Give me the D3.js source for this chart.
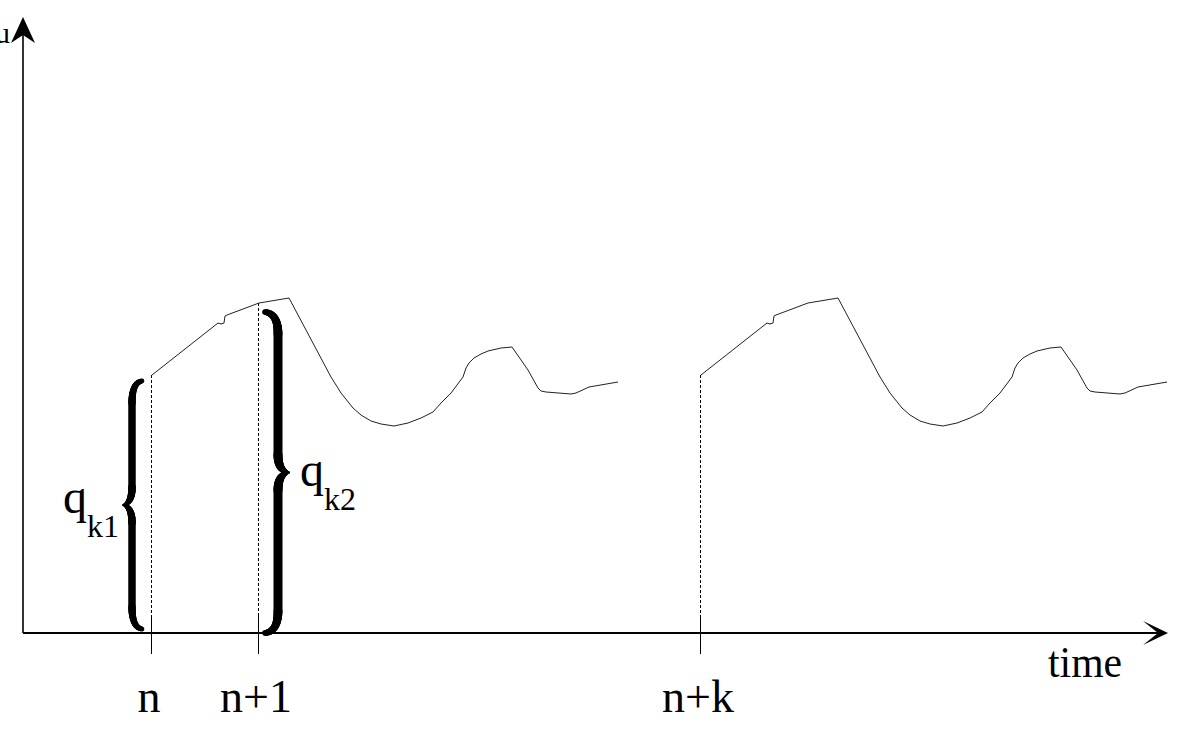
<!DOCTYPE html>
<html>
<head>
<meta charset="utf-8">
<script src="https://cdn.jsdelivr.net/npm/d3@7"></script>
<style>
  body { margin: 0; background: #fff; }
  svg { display: block; }
</style>
</head>
<body>
<svg></svg>
<script>
// one cycle of the signal, time measured from the cycle start
var cycleDt = [0, 66, 69, 72, 73, 75, 107, 137, 179, 189, 201, 209, 219, 229, 242, 256, 269, 281,
               289, 299, 311, 314, 317, 322, 329, 336, 349, 360, 376, 386, 389, 394, 419, 424, 437, 466]
var cycleU  = [258, 310, 309, 310, 317, 318, 330, 335, 256, 240, 225, 218, 212, 209, 207, 210, 215, 221,
               230, 240, 256, 265, 270, 275, 279, 282, 285, 286, 263, 245, 242, 241, 239, 240, 246, 251]
var cycleStarts = [129, 678]

// time ticks
var tickTimes  = [129, 236, 678]
var tickLabels = ["n", "n+1", "n+k"]
var dropU      = [258, 330, 258]

// braces
var braceTimes = [129, 236]
var braceQ     = [258, 330]
var braceSubs  = ["k1", "k2"]

var width = 1188, height = 739
var serif = "'Liberation Serif', 'DejaVu Serif', 'Times New Roman', Times, serif"

var svg = d3.select("svg")
  .attr("width", width)
  .attr("height", height)

var x = d3.scaleLinear().domain([0, 1145]).range([23, 1168])
var y = d3.scaleLinear().domain([0, 616]).range([633, 17])

// axes
var x0 = x(0), y0 = y(0)
svg.append("line")
  .attr("x1", x0).attr("y1", y0)
  .attr("x2", x(1145) - 10).attr("y2", y0)
  .attr("stroke", "#000").attr("stroke-width", 1.8)
svg.append("line")
  .attr("x1", x0).attr("y1", y0)
  .attr("x2", x0).attr("y2", y(616) + 18)
  .attr("stroke", "#000").attr("stroke-width", 1.6)

var xe = x(1145), ye = y(616)
svg.append("path")
  .attr("d", "M" + xe + "," + y0 + "L" + (xe - 25) + "," + (y0 - 12) + "L" + (xe - 10) + "," + y0 +
             "L" + (xe - 25) + "," + (y0 + 12) + "Z")
  .attr("fill", "#000")
svg.append("path")
  .attr("d", "M" + x0 + "," + ye + "L" + (x0 - 12) + "," + (ye + 26) + "L" + x0 + "," + (ye + 18) +
             "L" + (x0 + 12) + "," + (ye + 26) + "Z")
  .attr("fill", "#000")

svg.append("text")
  .attr("x", 1048).attr("y", 677)
  .attr("font-family", serif)
  .attr("font-size", 44)
  .attr("textLength", 74).attr("lengthAdjust", "spacingAndGlyphs")
  .text("time")
svg.append("text")
  .attr("x", 10).attr("y", 43)
  .attr("text-anchor", "end")
  .attr("font-family", serif)
  .attr("font-size", 30)
  .text("u")

// ticks, labels, dotted drop lines
tickTimes.forEach(function(t, i) {
  var xt = Math.round(x(t)) - 0.5
  svg.append("line")
    .attr("x1", xt).attr("y1", y0 - 18)
    .attr("x2", xt).attr("y2", y0 + 21)
    .attr("stroke", "#000").attr("stroke-width", 1)
  svg.append("line")
    .attr("x1", xt).attr("y1", y(dropU[i]))
    .attr("x2", xt).attr("y2", y0 - 18)
    .attr("stroke", "#000").attr("stroke-width", 1)
    .attr("stroke-dasharray", "3,2")
  svg.append("text")
    .attr("x", x(t) - 3).attr("y", 712)
    .attr("text-anchor", "middle")
    .attr("font-family", serif)
    .attr("font-size", 46)
    .text(tickLabels[i])
})

// signal cycles
var line = d3.line()
  .x(function(d) { return x(d[0]) })
  .y(function(d) { return y(d[1]) })

cycleStarts.forEach(function(s) {
  var pts = cycleDt.map(function(dt, i) { return [s + dt, cycleU[i]] })
  svg.append("path")
    .attr("d", line(pts))
    .attr("fill", "none")
    .attr("stroke", "#222")
    .attr("stroke-width", 1)
    .attr("stroke-linejoin", "round")
})

// curly brace drawn as a chain of round-capped segments of varying width
function bez(p0, p1, p2, p3, t) {
  var m = 1 - t
  return [
    m*m*m*p0[0] + 3*m*m*t*p1[0] + 3*m*t*t*p2[0] + t*t*t*p3[0],
    m*m*m*p0[1] + 3*m*m*t*p1[1] + 3*m*t*t*p2[1] + t*t*t*p3[1]
  ]
}

function drawBrace(xEnd, yTop, yBot, side, a, b, wMax) {
  var h = (yBot - yTop) / 2
  var half = []
  var n = 24
  // end hook
  for (var i = 0; i <= n; i++) {
    var p = bez([0, 0], [a * 0.6, 1], [a, 7], [a, 22], i / n)
    half.push({v: p[0], u: p[1], w: 5 + 3 * (i / n)})
  }
  // stem
  half.push({v: a, u: h - 18, w: 8})
  // into the tip
  for (var j = 1; j <= n; j++) {
    var q = bez([a, h - 18], [a, h - 6], [a + b * 0.4, h - 1], [a + b, h], j / n)
    half.push({v: q[0], u: q[1], w: 8 - 6.5 * (j / n) * (j / n)})
  }
  var other = half.slice().reverse().map(function(d) {
    return {v: d.v, u: 2 * h - d.u, w: d.w}
  })
  var all = half.concat(other.slice(1))
  var g = svg.append("g")
  for (var k = 1; k < all.length; k++) {
    var p0 = all[k - 1], p1 = all[k]
    g.append("line")
      .attr("x1", xEnd + side * p0.v).attr("y1", yTop + p0.u)
      .attr("x2", xEnd + side * p1.v).attr("y2", yTop + p1.u)
      .attr("stroke", "#000")
      .attr("stroke-width", (p0.w + p1.w) / 2 * wMax / 8)
      .attr("stroke-linecap", "round")
  }
  return yTop + h
}

// left brace "{" before n, right brace "}" after n+1
var mid1 = drawBrace(x(braceTimes[0]) - 10, y(braceQ[0]) + 6, y0 - 4, -1, 10, 9, 7.5)
var mid2 = drawBrace(x(braceTimes[1]) + 6, y(braceQ[1]) + 9, y0, 1, 13, 11, 9)

var lab1 = svg.append("text")
  .attr("x", 119).attr("y", mid1 + 8)
  .attr("text-anchor", "end")
  .attr("font-family", serif)
  .attr("font-size", 48)
lab1.append("tspan").text("q")
lab1.append("tspan").attr("dy", 24).attr("font-size", 32).text(braceSubs[0])

var lab2 = svg.append("text")
  .attr("x", 300).attr("y", mid2 + 13)
  .attr("font-family", serif)
  .attr("font-size", 48)
lab2.append("tspan").text("q")
lab2.append("tspan").attr("dy", 24).attr("font-size", 32).text(braceSubs[1])
</script>
</body>
</html>
